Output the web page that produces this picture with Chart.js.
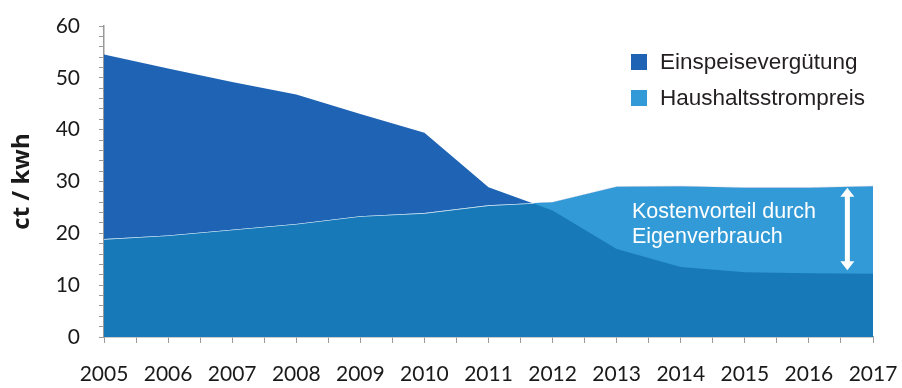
<!DOCTYPE html>
<html>
<head>
<meta charset="utf-8">
<script src="https://cdn.jsdelivr.net/npm/chart.js@4.4.1/dist/chart.umd.min.js"></script>
<style>
html, body { margin: 0; padding: 0; background: #fff; }
#wrap { width: 902px; height: 388px; position: relative; }
</style>
</head>
<body>
<div id="wrap"><canvas id="chart" width="902" height="388"></canvas></div>
<script>
// values (ct/kWh)
const years = [2005, 2006, 2007, 2008, 2009, 2010, 2011, 2012, 2013, 2014, 2015, 2016, 2017];
const einspeise = [54.5, 51.8, 49.2, 46.8, 43.0, 39.4, 28.9, 24.4, 17.0, 13.5, 12.5, 12.3, 12.2];
const haushalt = [18.9, 19.6, 20.7, 21.8, 23.3, 23.9, 25.4, 26.0, 29.0, 29.1, 28.8, 28.8, 29.1];
const yTicks = [0, 10, 20, 30, 40, 50, 60];
const seriesNames = ['Einspeisevergütung', 'Haushaltsstrompreis'];
const noteLines = ['Kostenvorteil durch', 'Eigenverbrauch'];
const arrowAt = { x: 2016.6, from: 28.8, to: 12.9 };

const DARK = '#1e63b4';
const MID = '#1879b9';
const LIGHT = '#329ad6';

function pts(vals) {
    return vals.map(function(v, i) { return { x: years[i], y: v }; });
}

// legend + annotation drawn on the canvas
const extras = {
    id: 'extras',
    afterDraw: function(chart) {
        var ctx = chart.ctx;
        var x = chart.scales.x, y = chart.scales.y;
        ctx.save();
        // legend
        var lx = 631, ly = [62, 98];
        ctx.font = '22.5px "Liberation Sans", Arial, sans-serif';
        ctx.textBaseline = 'middle';
        chart.data.datasets.forEach(function(ds, i) {
            ctx.fillStyle = ds.backgroundColor;
            ctx.fillRect(lx, ly[i] - 8, 16, 16);
            ctx.fillStyle = '#231f20';
            ctx.fillText(ds.label, lx + 29, ly[i] + 1);
        });
        // note
        ctx.fillStyle = '#fff';
        ctx.font = '21.5px "Liberation Sans", Arial, sans-serif';
        ctx.fillText(noteLines[0], 632, 212);
        ctx.fillText(noteLines[1], 632, 237);
        // double arrow
        var ax = x.getPixelForValue(arrowAt.x);
        var y1 = y.getPixelForValue(arrowAt.from), y2 = y.getPixelForValue(arrowAt.to);
        ctx.fillRect(ax - 2.5, y1 + 8, 5, y2 - y1 - 16);
        ctx.beginPath();
        ctx.moveTo(ax, y1); ctx.lineTo(ax - 7, y1 + 9); ctx.lineTo(ax + 7, y1 + 9); ctx.closePath();
        ctx.moveTo(ax, y2); ctx.lineTo(ax - 7, y2 - 9); ctx.lineTo(ax + 7, y2 - 9); ctx.closePath();
        ctx.fill();
        ctx.restore();
    }
};

new Chart(document.getElementById('chart'), {
    type: 'line',
    data: {
        datasets: [
            { label: seriesNames[0], data: pts(einspeise), backgroundColor: DARK, borderWidth: 0, pointRadius: 0,
              fill: { target: 1, above: DARK, below: LIGHT }, tension: 0 },
            { label: seriesNames[1], data: pts(haushalt), backgroundColor: LIGHT, borderColor: '#e4ecf4', borderWidth: 1.2, pointRadius: 0,
              fill: { target: 'origin', above: MID, below: MID }, tension: 0 }
        ]
    },
    options: {
        responsive: false,
        animation: false,
        layout: { padding: { left: 4, right: 29, top: 26, bottom: 0 } },
        plugins: { legend: { display: false }, tooltip: { enabled: false } },
        scales: {
            x: {
                type: 'linear', min: years[0], max: years[years.length - 1],
                afterFit: function(s) { s.height = 51; s.paddingLeft = 0; s.paddingRight = 0; },
                border: { color: '#9a9a9a', width: 1.5 },
                grid: { drawOnChartArea: false, tickLength: 6, color: '#9a9a9a' },
                ticks: { stepSize: 0.5, autoSkip: false, maxRotation: 0, padding: 19, color: '#1a1a1a',
                    font: { family: 'Lato', size: 21 },
                    callback: function(v) { return years.indexOf(v) >= 0 ? String(v) : ''; } }
            },
            y: {
                min: yTicks[0], max: yTicks[yTicks.length - 1],
                afterFit: function(s) { s.width = 100; s.paddingTop = 0; s.paddingBottom = 0; },
                border: { color: '#9a9a9a', width: 1.5 },
                grid: { drawOnChartArea: false, tickLength: 5, color: '#9a9a9a' },
                ticks: { stepSize: 2, autoSkip: false, padding: 19, color: '#1a1a1a',
                    font: { family: 'Lato', size: 21 },
                    callback: function(v) { return yTicks.indexOf(v) >= 0 ? String(v) : ''; } },
                title: { display: true, text: 'ct / kwh', color: '#1a1a1a', padding: { top: 4, bottom: 3 },
                    font: { family: 'Open Sans', size: 24, weight: 'bold' } }
            }
        }
    },
    plugins: [extras]
});
</script>
</body>
</html>
